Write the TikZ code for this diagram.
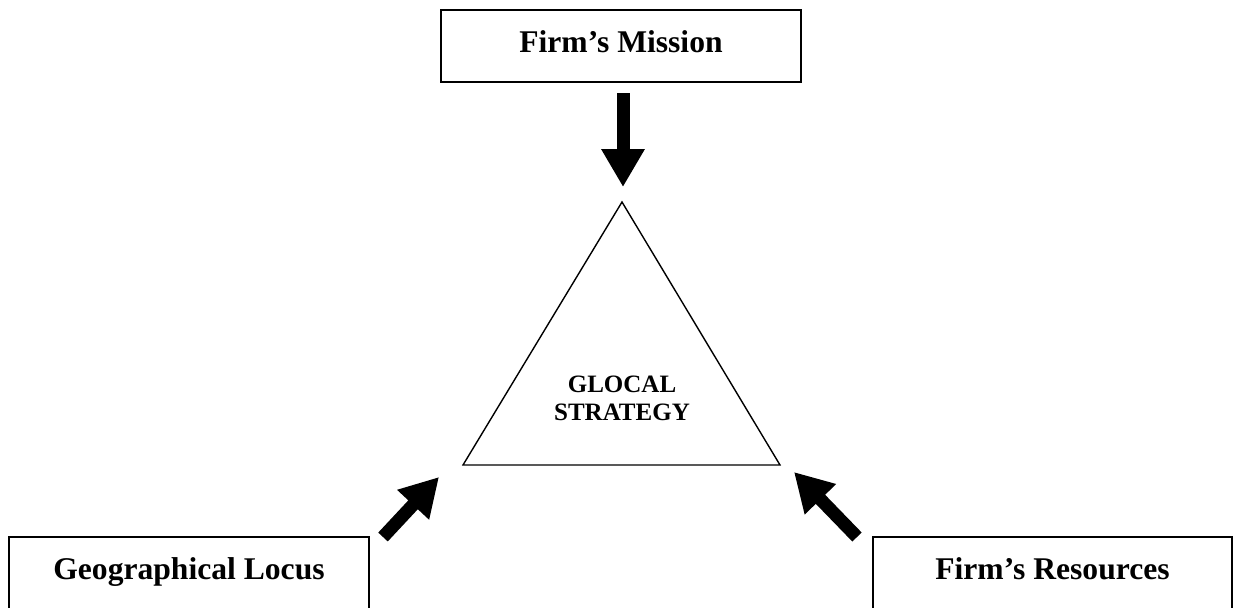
\documentclass[tikz,border=0pt]{standalone}
\usepackage{fontspec}
\setmainfont{Liberation Serif}
\usetikzlibrary{arrows.meta}

\begin{document}
\begin{tikzpicture}[
        x = 0.5pt, y = -0.5pt,
        line join=miter,
        boxstyle/.style = {draw, line width=0.8pt, inner sep=0pt, minimum width=180pt},
        boxtext/.style = {font=\fontsize{15.8}{19}\selectfont\bfseries, inner sep=0pt, anchor=base},
        corestyle/.style = {font=\fontsize{12.5}{14}\selectfont\bfseries, align=center, inner sep=0pt},
        fatarrow/.style = {line width=6.5pt, -{Triangle[width=20.5pt, length=19pt]}}
    ]
        \useasboundingbox (0,0) rectangle (1233,607);
        \clip (0,0) rectangle (1233,607);

        % the three inputs
        \node[boxstyle, minimum height=36pt] (mission) at (621,46) {};
        \node[boxstyle, minimum height=52pt] (locus) at (189,589) {};
        \node[boxstyle, minimum width=179.5pt, minimum height=52pt] (resources) at (1052.5,589) {};

        \node[boxtext] (missiontext) at (621,52) {Firm’s Mission};
        \node[boxtext] (locustext) at (189,579) {Geographical Locus};
        \node[boxtext] (resourcestext) at (1052.5,579) {Firm’s Resources};

        % the triangle
        \coordinate (apex) at (622,202);
        \coordinate (baseL) at (463,465);
        \coordinate (baseR) at (780,465);
        \draw[line width=0.7pt] (apex) -- (baseL) -- (baseR) -- cycle;
        \node[corestyle] (core) at (622,398) {GLOCAL\\STRATEGY};

        % arrows
        \coordinate (a1) at (623,93);
        \coordinate (b1) at (623,187);
        \coordinate (a2) at (383,537);
        \coordinate (b2) at (439,477);
        \coordinate (a3) at (857,537);
        \coordinate (b3) at (794,472);

        \draw[fatarrow] (a1) -- (b1);
        \draw[fatarrow] (a2) -- (b2);
        \draw[fatarrow] (a3) -- (b3);

    \end{tikzpicture}
\end{document}
